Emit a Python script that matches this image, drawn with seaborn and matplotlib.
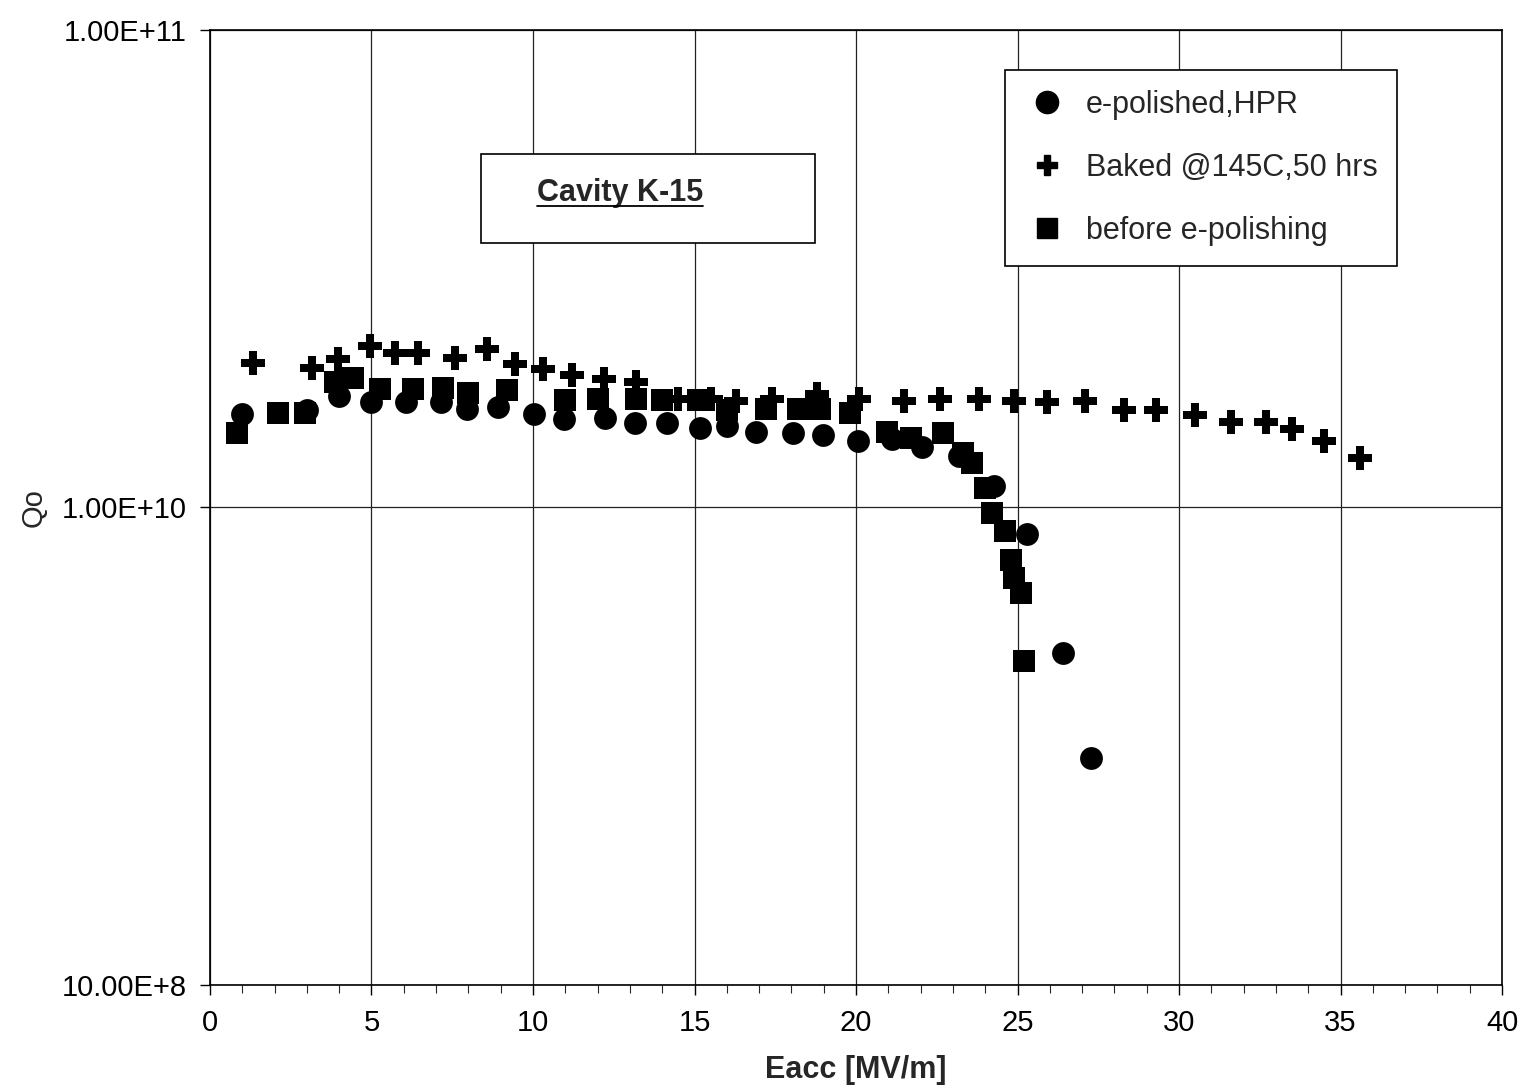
import numpy as np
import pandas as pd
import seaborn as sns
import matplotlib.pyplot as plt
from matplotlib.patches import Rectangle
from matplotlib.lines import Line2D
from matplotlib.ticker import MultipleLocator, NullLocator

# e-polished, HPR
eacc_ep = [0.99, 3.0, 4.0, 4.98, 6.07, 7.15, 7.96, 8.92, 10.03, 10.96, 12.23, 13.16,
           14.15, 15.17, 16.0, 16.9, 18.05, 18.98, 20.06, 21.1, 22.04, 23.19, 24.27,
           25.29, 26.41, 27.28]
q_ep = [1.57e10, 1.60e10, 1.71e10, 1.66e10, 1.66e10, 1.66e10, 1.61e10, 1.62e10,
        1.57e10, 1.53e10, 1.54e10, 1.50e10, 1.50e10, 1.47e10, 1.48e10, 1.44e10,
        1.43e10, 1.42e10, 1.38e10, 1.39e10, 1.34e10, 1.28e10, 1.11e10, 8.8e9,
        4.95e9, 2.99e9]

# baked @145C, 50 hrs
eacc_bk = [1.33, 3.16, 3.96, 4.95, 5.73, 6.44, 7.59, 8.58, 9.44, 10.3, 11.2, 12.2,
           13.2, 14.5, 15.5, 16.3, 17.4, 18.8, 20.1, 21.5, 22.6, 23.8, 24.9, 25.9,
           27.1, 28.3, 29.3, 30.5, 31.6, 32.7, 33.5, 34.5, 35.6]
q_bk = [2.01e10, 1.96e10, 2.05e10, 2.18e10, 2.11e10, 2.11e10, 2.06e10, 2.15e10,
        2.00e10, 1.95e10, 1.89e10, 1.86e10, 1.83e10, 1.69e10, 1.69e10, 1.67e10,
        1.69e10, 1.73e10, 1.69e10, 1.67e10, 1.69e10, 1.69e10, 1.67e10, 1.66e10,
        1.67e10, 1.60e10, 1.60e10, 1.56e10, 1.51e10, 1.51e10, 1.46e10, 1.38e10,
        1.27e10]

# before e-polishing
eacc_bp = [0.84, 2.11, 2.94, 3.87, 4.43, 5.26, 6.28, 7.21, 7.99, 9.2, 11.0, 12.0,
           13.2, 14.0, 15.1, 16.0, 17.2, 18.2, 18.9, 19.8, 20.96, 21.7, 22.7, 23.3,
           23.6, 24.0, 24.2, 24.6, 24.8, 24.9, 25.1, 25.2]
q_bp = [1.43e10, 1.58e10, 1.58e10, 1.83e10, 1.87e10, 1.77e10, 1.77e10, 1.78e10,
        1.74e10, 1.76e10, 1.68e10, 1.69e10, 1.69e10, 1.68e10, 1.68e10, 1.60e10,
        1.61e10, 1.61e10, 1.61e10, 1.58e10, 1.44e10, 1.40e10, 1.43e10, 1.30e10,
        1.24e10, 1.10e10, 9.76e9, 8.95e9, 7.75e9, 7.13e9, 6.61e9, 4.78e9]

series_labels = ['e-polished,HPR', 'Baked @145C,50 hrs', 'before e-polishing']
ytick_vals = [1e9, 1e10, 1e11]
ytick_labels = ['10.00E+8', '1.00E+10', '1.00E+11']

sns.set_style('ticks')
plt.rcParams['font.family'] = ['Liberation Sans', 'DejaVu Sans']

df_ep = pd.DataFrame({'Eacc': eacc_ep, 'Q': q_ep})
df_bk = pd.DataFrame({'Eacc': eacc_bk, 'Q': q_bk})
df_bp = pd.DataFrame({'Eacc': eacc_bp, 'Q': q_bp})

fig = plt.figure(figsize=(15.26, 10.88), dpi=100)
ax = fig.add_axes([0.1376, 0.0947, 0.8467, 0.8777])

sns.scatterplot(data=df_ep, x='Eacc', y='Q', marker='o', s=270, color='black',
                edgecolor='black', linewidth=0, ax=ax, zorder=3)
sns.scatterplot(data=df_bp, x='Eacc', y='Q', marker='s', s=250, color='black',
                edgecolor='black', linewidth=0, ax=ax, zorder=4)
sns.scatterplot(data=df_bk, x='Eacc', y='Q', marker='P', s=280, color='black',
                edgecolor='black', linewidth=0, ax=ax, zorder=5)

ax.set_yscale('log')
ax.set_xlim(0, 40)
ax.set_ylim(1e9, 1e11)
ax.set_yticks(ytick_vals)
ax.set_yticklabels(ytick_labels)
ax.yaxis.set_minor_locator(NullLocator())
ax.xaxis.set_major_locator(MultipleLocator(5))
ax.xaxis.set_minor_locator(MultipleLocator(1))
ax.tick_params(axis='both', which='major', labelsize=21, length=7.5, width=1, direction='out', colors='black')
ax.tick_params(axis='x', which='minor', length=6, width=0.8, direction='out')
ax.tick_params(axis='x', which='major', pad=10)
ax.tick_params(axis='y', which='major', pad=9)

for sp in ax.spines.values():
    sp.set_visible(True)
    sp.set_linewidth(1.2)
    sp.set_color('black')

ax.grid(True, which='major', axis='both', color='#222222', linewidth=0.9)

ax.set_xlabel('Eacc [MV/m]', fontsize=22, fontweight='bold', labelpad=13)
ax.set_ylabel('Qo', fontsize=21, labelpad=10)

# legend
handles = [
    Line2D([], [], linestyle='none', marker='o', markersize=16, color='black'),
    Line2D([], [], linestyle='none', marker='P', markersize=15, color='black'),
    Line2D([], [], linestyle='none', marker='s', markersize=14, color='black'),
]
leg = ax.legend(handles, series_labels, loc='upper left', bbox_to_anchor=(0.615, 0.958),
                borderaxespad=0, fontsize=22, frameon=True, fancybox=False,
                edgecolor='black', framealpha=1, labelspacing=1.08,
                handletextpad=0.5, borderpad=0.65, handlelength=1.5)
leg.get_frame().set_linewidth(1.2)

# annotation box
ax.add_patch(Rectangle((0.2098, 0.777), 0.2585, 0.093, transform=ax.transAxes,
                       facecolor='white', edgecolor='black', linewidth=1.2, zorder=6))
t = ax.text(0.253, 0.829, 'Cavity K-15', transform=ax.transAxes, fontsize=22,
            fontweight='bold', ha='left', va='center', zorder=7)

fig.canvas.draw()
bb = t.get_window_extent().transformed(ax.transAxes.inverted())
ax.plot([bb.x0, bb.x1], [bb.y0 + 0.002, bb.y0 + 0.002], transform=ax.transAxes,
        color='black', linewidth=1.3, zorder=7)

fig.savefig('out.png', dpi=100)
